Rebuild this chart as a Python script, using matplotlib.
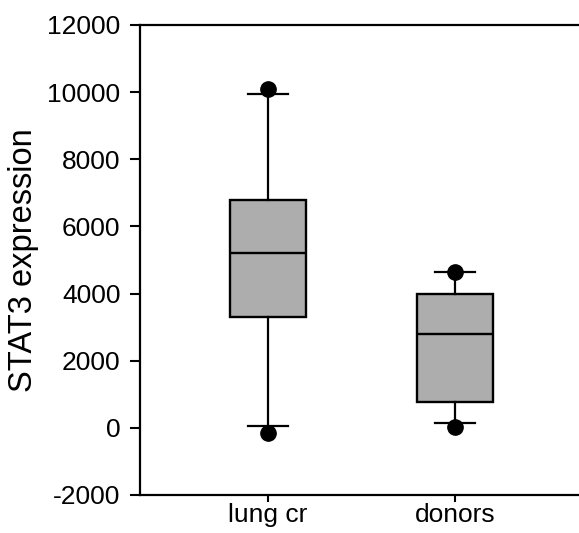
import matplotlib
matplotlib.use('Agg')
import matplotlib.pyplot as plt

# values
groups = ['lung cr', 'donors']
q1 = [3300, 780]
med = [5200, 2800]
q3 = [6800, 4000]
whislo = [50, 150]
whishi = [9950, 4650]
fliers = [[10100, -150], [4650, 30]]

plt.rcParams['font.family'] = ['Liberation Sans', 'DejaVu Sans']
plt.rcParams['axes.unicode_minus'] = False

fig = plt.figure(figsize=(5.79, 5.33), dpi=100)
ax = fig.add_axes([140 / 579, 38 / 533, 443 / 579, 470 / 533])

stats = []
for i, name in enumerate(groups):
    stats.append(dict(label=name, q1=q1[i], med=med[i], q3=q3[i],
                      whislo=whislo[i], whishi=whishi[i], fliers=fliers[i]))

ax.bxp(stats, positions=[1, 2], widths=0.41, capwidths=0.214,
       patch_artist=True,
       boxprops=dict(facecolor='#adadad', edgecolor='black', linewidth=1.7),
       medianprops=dict(color='black', linewidth=1.7),
       whiskerprops=dict(color='black', linewidth=1.6),
       capprops=dict(color='black', linewidth=1.6),
       flierprops=dict(marker='o', markerfacecolor='black', markeredgecolor='black',
                       markersize=11))

ax.set_xlim(0.316, 2.684)
ax.set_ylim(-2000, 12000)
ax.set_yticks(range(-2000, 12001, 2000))
ax.set_ylabel('STAT3 expression', fontsize=23.5, labelpad=6)
ax.tick_params(axis='y', labelsize=19, width=1.5, length=7, pad=7, direction='out')
ax.tick_params(axis='x', labelsize=19, width=1.5, length=5, pad=1, direction='out')
for s in ax.spines.values():
    s.set_linewidth(1.6)

fig.savefig('out.png', dpi=100)
